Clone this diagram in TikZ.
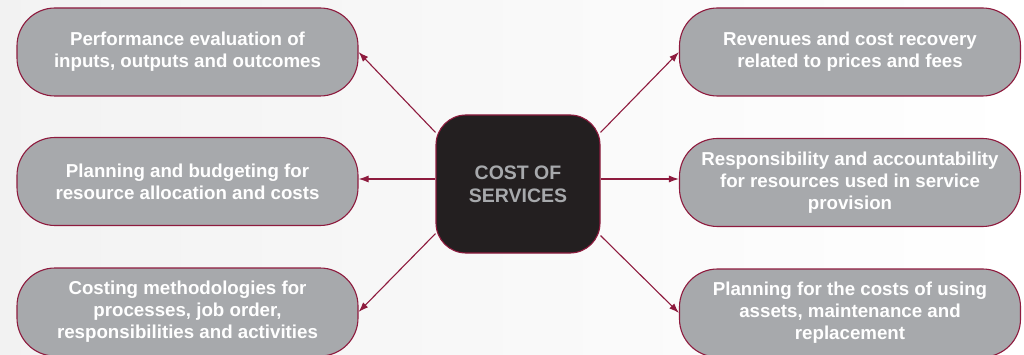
\documentclass[tikz,border=0pt]{standalone}
\usepackage{fontspec}
\setmainfont{Liberation Sans}
\usetikzlibrary{arrows.meta}

\definecolor{maroon}{HTML}{8E1B3E}
\definecolor{boxgrey}{HTML}{A7A9AC}
\definecolor{coredark}{HTML}{231F20}

\begin{document}
\begin{tikzpicture}[
                  x = 1pt,
                  y = -1pt,
                  > = {Latex[length=10pt, width=7pt]},
        topic/.style = {rectangle,
                        rounded corners=38pt,
                        draw=maroon,
                        line width=1.1pt,
                        fill=boxgrey,
                        text=white,
                        font=\bfseries\fontsize{18.7}{22}\selectfont,
                        align=center,
                        minimum width=341pt,
                        minimum height=88pt,
                        inner sep=0pt},
         core/.style = {rectangle,
                        rounded corners=30pt,
                        draw=maroon,
                        line width=1.1pt,
                        fill=coredark,
                        text=boxgrey,
                        font=\bfseries\fontsize{19.5}{23}\selectfont,
                        align=center,
                        minimum width=164pt,
                        minimum height=138pt,
                        inner sep=0pt},
         link/.style = {->, draw=maroon, line width=1.1pt},
            ]

    % background
    \fill[left color=black!5, right color=white] (0,0) rectangle (1024,355);
    \useasboundingbox (0,0) rectangle (1024,355);

    % centre
    \node[core] (cost) at (518,184) {COST OF\\SERVICES};

    % left column
    \node[topic] (perf)  at (187.5,52)  {Performance evaluation of\\inputs, outputs and outcomes};
    \node[topic] (plan)  at (187.5,181.5) {Planning and budgeting for\\resource allocation and costs};
    \node[topic] (meth)  at (187.5,312) {Costing methodologies for\\processes, job order,\\responsibilities and activities};

    % right column
    \node[topic] (rev)   at (850,52)  {Revenues and cost recovery\\related to prices and fees};
    \node[topic] (resp)  at (850,182.5) {Responsibility and accountability\\for resources used in service\\provision};
    \node[topic] (asset) at (850,313) {Planning for the costs of using\\assets, maintenance and\\replacement};

    % links
    \draw[link] (cost.148) -- (perf.east);
    \draw[link] (cost.west |- 0,179) -- (plan.east |- 0,179);
    \draw[link] (cost.211) -- (meth.east);
    \draw[link] (cost.32) -- (rev.west);
    \draw[link] (cost.east |- 0,179) -- (resp.west |- 0,179);
    \draw[link] (cost.328) -- (asset.west);
\end{tikzpicture}
\end{document}
